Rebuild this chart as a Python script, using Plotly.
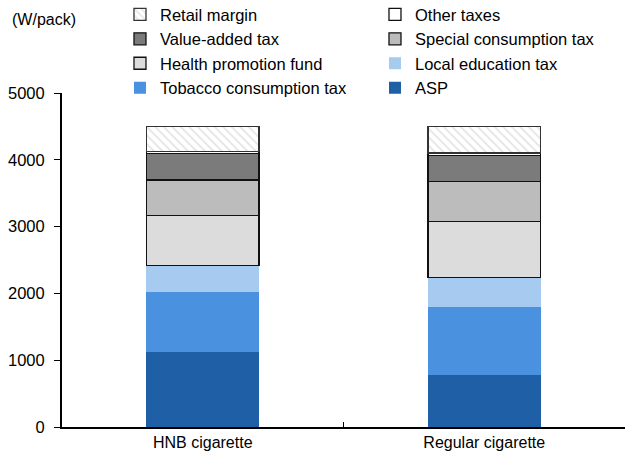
import plotly.graph_objects as go

categories = ["HNB cigarette", "Regular cigarette"]
asp = [1128, 786]
tobacco_consumption_tax = [897, 1007]
local_education_tax = [395, 443]
health_promotion_fund = [750, 841]
special_consumption_tax = [529, 594]
value_added_tax = [391, 395]
other_taxes = [35, 34]
retail_margin = [375, 400]

series = [
    ("ASP", asp, "#1f5fa6", None, None),
    ("Tobacco consumption tax", tobacco_consumption_tax, "#4a92df", None, None),
    ("Local education tax", local_education_tax, "#a6caf0", None, None),
    ("Health promotion fund", health_promotion_fund, "#dcdcdc", "#111111", None),
    ("Special consumption tax", special_consumption_tax, "#bcbcbc", "#111111", None),
    ("Value-added tax", value_added_tax, "#7b7b7b", "#111111", None),
    ("Other taxes", other_taxes, "#ffffff", "#111111", None),
    ("Retail margin", retail_margin, "#ffffff", "#333333", "\\"),
]

fig = go.Figure()
n = len(series)
for i, (name, vals, color, lcolor, pat) in enumerate(series):
    marker = dict(color=color)
    if lcolor:
        marker["line"] = dict(color=lcolor, width=1.3)
    else:
        marker["line"] = dict(color=color, width=0)
    if pat:
        marker["pattern"] = dict(shape=pat, fgcolor="#c8c8c8", bgcolor="#ffffff", size=6, solidity=0.3)
    fig.add_trace(go.Bar(x=categories, y=vals, name=name, marker=marker,
                         legendrank=n - i))

fig.update_layout(
    barmode="stack",
    bargap=0.6,
    width=630, height=463,
    margin=dict(l=62, r=5, t=93, b=36, autoexpand=False),
    paper_bgcolor="white", plot_bgcolor="white",
    font=dict(family="Liberation Sans, Arial, sans-serif", size=16, color="#000000"),
    showlegend=True,
    legend=dict(orientation="h", xref="paper", yref="paper",
                x=0.103, y=1.287, xanchor="left", yanchor="top",
                entrywidth=210, entrywidthmode="pixels",
                traceorder="normal", font=dict(size=16.5),
                itemclick=False, bgcolor="rgba(0,0,0,0)",
                tracegroupgap=0, itemwidth=30),
    xaxis=dict(showline=True, linecolor="#000000", linewidth=2,
               ticks="inside", tickson="boundaries", ticklen=5,
               tickcolor="#000000", tickwidth=1.3, showgrid=False,
               tickfont=dict(size=16)),
    yaxis=dict(range=[0, 5000], dtick=1000, showline=True, linecolor="#000000",
               linewidth=2, ticks="outside", ticklen=6, tickcolor="#000000",
               tickwidth=1.3, showgrid=False, zeroline=False,
               ticklabelstandoff=6, tickfont=dict(size=16.5)),
    annotations=[dict(text="(W/pack)", xref="paper", yref="paper",
                      x=-0.092, y=1.2186, xanchor="left", yanchor="middle",
                      showarrow=False, font=dict(size=16))],
)

fig.write_html("out.html")
